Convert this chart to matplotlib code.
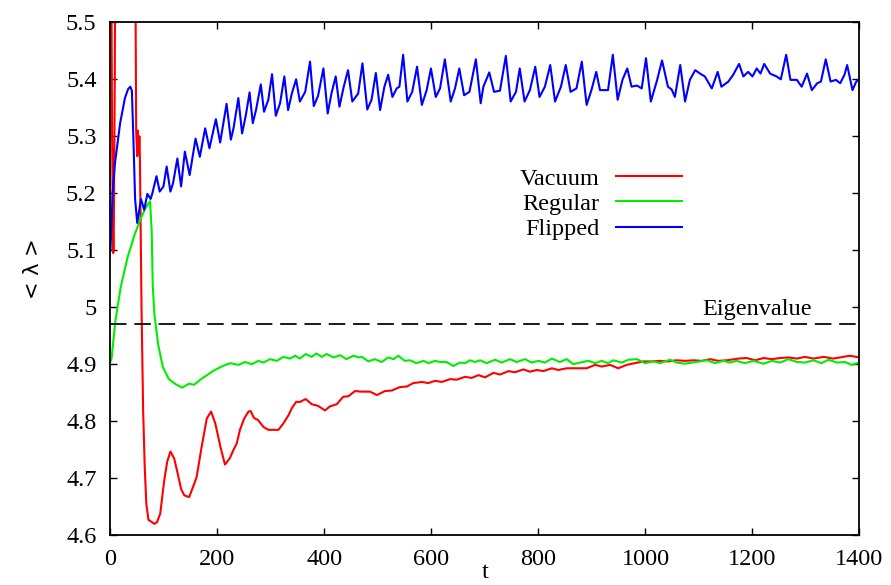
import numpy as np
import matplotlib
matplotlib.use("Agg")
import matplotlib.pyplot as plt

plt.rcParams['font.family'] = ['Liberation Serif', 'DejaVu Serif']

# Vacuum (red)
vac_t = [0, 3, 5, 6, 8, 10, 20, 35, 46, 48, 50, 51, 53, 54, 55, 58, 61, 64, 67, 71,
         76, 82, 87, 93, 100, 106, 112, 119, 125, 132, 138, 147, 154, 161, 170, 180, 188, 196, 206, 214,
         223, 230, 236, 242, 250, 258, 262, 268, 276, 286, 295, 304, 314, 323, 333, 339, 347, 354, 365, 376,
         388, 401, 410, 423, 435, 445, 457, 470, 485, 498, 513, 526, 541, 554, 566, 582, 594, 607, 619, 635,
         647, 663, 675, 688, 700, 716, 728, 744, 756, 772, 784, 797, 809, 825, 837, 853, 862, 878, 890, 906,
         918, 934, 949, 965, 980, 996, 1012, 1027, 1043, 1058, 1074, 1090, 1105, 1121, 1136, 1152, 1174, 1189, 1205, 1221,
         1236, 1252, 1267, 1283, 1298, 1314, 1333, 1351, 1370, 1382, 1400]
vac_v = [5.90, 5.30, 5.095, 5.10, 5.40, 5.90, 5.95, 5.95, 5.70, 5.31, 5.265, 5.31, 5.27, 5.30, 5.262, 5.00, 4.82, 4.72, 4.655, 4.627,
         4.624, 4.620, 4.623, 4.638, 4.693, 4.729, 4.747, 4.735, 4.711, 4.681, 4.670, 4.667, 4.684, 4.702, 4.753, 4.805, 4.817, 4.796, 4.753, 4.724,
         4.735, 4.750, 4.761, 4.785, 4.805, 4.817, 4.818, 4.806, 4.802, 4.790, 4.785, 4.785, 4.785, 4.796, 4.811, 4.823, 4.834, 4.834, 4.839, 4.830,
         4.827, 4.819, 4.826, 4.830, 4.843, 4.844, 4.853, 4.852, 4.852, 4.846, 4.853, 4.854, 4.860, 4.861, 4.867, 4.869, 4.867, 4.871, 4.869, 4.874,
         4.873, 4.878, 4.876, 4.881, 4.877, 4.885, 4.882, 4.888, 4.886, 4.891, 4.887, 4.890, 4.888, 4.893, 4.890, 4.893, 4.893, 4.893, 4.893, 4.899,
         4.896, 4.899, 4.893, 4.899, 4.902, 4.905, 4.905, 4.906, 4.905, 4.907, 4.906, 4.907, 4.906, 4.909, 4.906, 4.907, 4.910, 4.911, 4.907, 4.911,
         4.909, 4.911, 4.912, 4.910, 4.913, 4.910, 4.913, 4.910, 4.913, 4.915, 4.912]

# Regular (green)
reg_t = [0, 2, 9, 19, 32, 45, 58, 66, 74, 77, 79, 82, 89, 98, 109, 122, 134, 147, 156, 171,
         193, 210, 224, 239, 252, 264, 276, 286, 298, 311, 323, 336, 345, 354, 365, 376, 385, 395, 404, 417,
         429, 441, 454, 464, 470, 482, 494, 507, 519, 529, 538, 550, 560, 572, 585, 594, 607, 616, 628, 641,
         653, 663, 672, 681, 691, 703, 719, 731, 747, 759, 775, 787, 800, 812, 825, 840, 853, 865, 878, 893,
         906, 918, 930, 940, 956, 968, 984, 999, 1015, 1027, 1046, 1058, 1074, 1087, 1102, 1115, 1130, 1146, 1158, 1170,
         1186, 1202, 1221, 1236, 1252, 1267, 1283, 1298, 1314, 1329, 1342, 1358, 1373, 1385, 1400]
reg_v = [4.905, 4.910, 4.975, 5.035, 5.088, 5.127, 5.159, 5.175, 5.186, 5.134, 5.038, 4.989, 4.935, 4.895, 4.874, 4.865, 4.859, 4.866, 4.864, 4.875,
         4.889, 4.897, 4.902, 4.899, 4.904, 4.900, 4.906, 4.903, 4.909, 4.906, 4.913, 4.910, 4.915, 4.910, 4.918, 4.913, 4.919, 4.913, 4.918, 4.912,
         4.916, 4.909, 4.915, 4.912, 4.913, 4.905, 4.909, 4.904, 4.912, 4.909, 4.915, 4.906, 4.907, 4.902, 4.906, 4.902, 4.906, 4.904, 4.904, 4.897,
         4.903, 4.902, 4.907, 4.904, 4.907, 4.902, 4.908, 4.903, 4.909, 4.904, 4.909, 4.903, 4.906, 4.903, 4.910, 4.904, 4.909, 4.900, 4.903, 4.906,
         4.902, 4.906, 4.902, 4.907, 4.903, 4.908, 4.909, 4.902, 4.905, 4.902, 4.908, 4.903, 4.901, 4.903, 4.905, 4.907, 4.902, 4.906, 4.903, 4.906,
         4.902, 4.906, 4.901, 4.906, 4.903, 4.909, 4.904, 4.903, 4.907, 4.902, 4.908, 4.903, 4.904, 4.899, 4.903]

# Flipped (blue)
flip_t = [0, 4, 8, 18, 27, 33, 37, 40, 43, 46, 50, 57, 63, 69, 75, 78, 86, 92, 99, 105,
          112, 117, 125, 132, 139, 148, 159, 167, 177, 185, 197, 205, 217, 225, 230, 239, 246, 253, 260, 266,
          272, 281, 287, 295, 302, 309, 317, 325, 332, 339, 347, 354, 364, 373, 380, 388, 398, 406, 413, 421,
          428, 436, 444, 452, 463, 471, 480, 488, 496, 504, 512, 519, 527, 535, 540, 547, 555, 564, 573, 582,
          591, 599, 608, 616, 625, 636, 644, 652, 661, 671, 683, 692, 697, 708, 717, 728, 739, 748, 758, 765,
          774, 784, 794, 802, 812, 822, 831, 842, 851, 860, 871, 881, 890, 899, 908, 915, 930, 939, 948, 957,
          966, 974, 984, 993, 1001, 1010, 1021, 1031, 1042, 1049, 1055, 1065, 1074, 1083, 1093, 1102, 1111, 1124, 1135, 1142,
          1155, 1164, 1175, 1183, 1192, 1200, 1208, 1215, 1222, 1233, 1245, 1253, 1263, 1271, 1283, 1292, 1302, 1311, 1321, 1328,
          1337, 1346, 1356, 1364, 1372, 1377, 1387, 1394, 1400]
flip_v = [5.10, 5.20, 5.25, 5.323, 5.367, 5.383, 5.387, 5.38, 5.29, 5.19, 5.148, 5.19, 5.171, 5.199, 5.19, 5.199, 5.230, 5.203, 5.212, 5.247,
          5.203, 5.218, 5.261, 5.212, 5.273, 5.232, 5.296, 5.264, 5.314, 5.279, 5.330, 5.289, 5.357, 5.294, 5.314, 5.367, 5.305, 5.337, 5.377, 5.323,
          5.346, 5.391, 5.343, 5.364, 5.409, 5.336, 5.358, 5.405, 5.346, 5.375, 5.400, 5.361, 5.378, 5.431, 5.353, 5.371, 5.419, 5.340, 5.375, 5.405,
          5.352, 5.387, 5.416, 5.361, 5.375, 5.428, 5.347, 5.364, 5.411, 5.346, 5.387, 5.408, 5.369, 5.384, 5.387, 5.443, 5.361, 5.378, 5.422, 5.355,
          5.381, 5.419, 5.369, 5.384, 5.435, 5.361, 5.384, 5.419, 5.372, 5.378, 5.435, 5.358, 5.387, 5.412, 5.378, 5.380, 5.441, 5.361, 5.378, 5.419,
          5.361, 5.381, 5.422, 5.369, 5.387, 5.425, 5.361, 5.387, 5.425, 5.378, 5.384, 5.431, 5.355, 5.381, 5.413, 5.381, 5.381, 5.443, 5.364, 5.399,
          5.419, 5.387, 5.389, 5.384, 5.437, 5.361, 5.396, 5.433, 5.387, 5.382, 5.369, 5.425, 5.361, 5.399, 5.416, 5.410, 5.405, 5.384, 5.413, 5.387,
          5.396, 5.408, 5.427, 5.405, 5.413, 5.405, 5.419, 5.410, 5.427, 5.410, 5.405, 5.400, 5.443, 5.399, 5.399, 5.387, 5.410, 5.381, 5.393, 5.396,
          5.435, 5.396, 5.399, 5.393, 5.408, 5.425, 5.381, 5.396, 5.400]

eigenvalue = 4.97

x_ticks = [0, 200, 400, 600, 800, 1000, 1200, 1400]
y_ticks = [4.6, 4.7, 4.8, 4.9, 5.0, 5.1, 5.2, 5.3, 5.4, 5.5]
y_tick_labels = ["4.6", "4.7", "4.8", "4.9", "5", "5.1", "5.2", "5.3", "5.4", "5.5"]

fs = 17.5

fig = plt.figure(figsize=(8.91, 5.85), dpi=100)
ax = fig.add_axes([0.124, 0.085, 0.8406, 0.8769])

ax.plot(vac_t, vac_v, color="#ff0000", lw=1.5, label="Vacuum")
ax.plot(reg_t, reg_v, color="#00ee00", lw=1.5, label="Regular")
ax.plot(flip_t, flip_v, color="#0000ff", lw=1.5, label="Flipped")
ax.axhline(eigenvalue, color="#1a1a1a", lw=1.4, linestyle=(0, (8.5, 4)))
ax.text(1311, eigenvalue + 0.016, "Eigenvalue", ha="right", va="baseline", fontsize=fs)

ax.set_xlim(0, 1400)
ax.set_ylim(4.6, 5.5)
ax.set_xticks(x_ticks)
ax.set_yticks(y_ticks)
ax.set_yticklabels(y_tick_labels)
ax.tick_params(direction="in", length=5, width=1, top=True, right=True, labelsize=fs)
ax.tick_params(axis="x", pad=10)
ax.tick_params(axis="y", pad=10)
for sp in ax.spines.values():
    sp.set_linewidth(1.3)

fig.text(0.037, 0.54, "< λ >", rotation=90, ha="center", va="center",
         fontsize=15, family="DejaVu Sans")
fig.text(0.544, 0.003, "t", ha="center", va="bottom", fontsize=fs)

leg = ax.legend(loc="center", bbox_to_anchor=(0.655, 0.646), frameon=False,
                markerfirst=False, handlelength=2.74, handletextpad=0.66,
                labelspacing=0.13, borderpad=0, fontsize=fs)

fig.savefig("out.png", dpi=100)
